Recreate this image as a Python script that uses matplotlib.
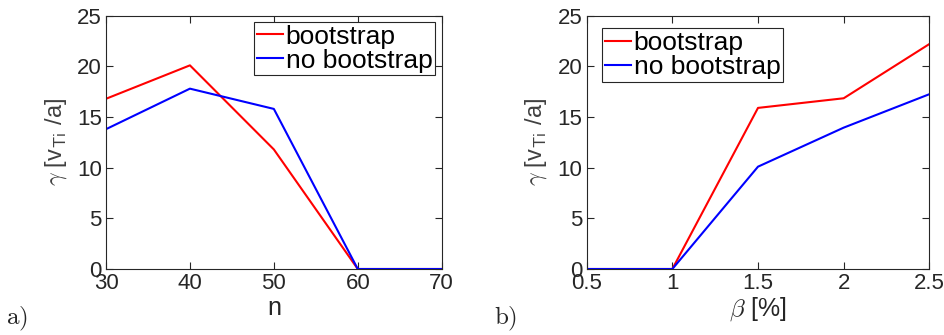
import matplotlib.pyplot as plt
import numpy as np

plt.rcParams['mathtext.fontset'] = 'cm'
plt.rcParams['font.family'] = ['Liberation Sans', 'DejaVu Sans']

n_vals = [30, 40, 50, 60, 70]
n_boot = [16.8, 20.1, 11.8, 0, 0]
n_noboot = [13.8, 17.8, 15.8, 0, 0]

beta_vals = [0.5, 1, 1.5, 2, 2.5]
beta_boot = [0, 0, 15.9, 16.85, 22.2]
beta_noboot = [0, 0, 10.1, 13.95, 17.25]

tick_col = '#262626'

fig = plt.figure(figsize=(9.44, 3.35), dpi=100)
ax1 = fig.add_axes([106 / 944, 1 - 269 / 335, 335.7 / 944, 253.3 / 335])
ax2 = fig.add_axes([586.7 / 944, 1 - 269 / 335, 342.6 / 944, 253.3 / 335])


def style(ax, x, xticks, xticklabels, xlabel):
    ax.set_xlim(x[0], x[-1])
    ax.set_ylim(0, 25)
    ax.set_xticks(xticks)
    ax.set_xticklabels(xticklabels)
    ax.set_yticks([0, 5, 10, 15, 20, 25])
    ax.tick_params(direction='in', top=True, right=True, labelsize=16,
                   colors=tick_col, length=5, width=0.8, pad=3)
    for s in ax.spines.values():
        s.set_color(tick_col)
        s.set_linewidth(0.8)
    ax.set_ylabel(r'$\gamma$ [v$_{\mathsf{Ti}}$ /a]', fontsize=17,
                  color='#404040', labelpad=6)
    ax.set_xlabel(xlabel, fontsize=18, color=tick_col, labelpad=1)


def legend(ax, loc, anchor):
    leg = ax.legend(loc=loc, bbox_to_anchor=anchor, fontsize=19,
                    handlelength=1.0, handletextpad=0.1, borderpad=0.1,
                    labelspacing=0.0, borderaxespad=0, fancybox=False,
                    framealpha=1)
    leg.get_frame().set_edgecolor('#262626')
    leg.get_frame().set_linewidth(0.8)


ax1.plot(n_vals, n_boot, color='#ff0000', lw=1.5, label='bootstrap')
ax1.plot(n_vals, n_noboot, color='#0000ff', lw=1.5, label='no bootstrap')
style(ax1, n_vals, n_vals, [str(v) for v in n_vals], 'n')
legend(ax1, 'upper right', (0.98, 0.975))

ax2.plot(beta_vals, beta_boot, color='#ff0000', lw=1.5, label='bootstrap')
ax2.plot(beta_vals, beta_noboot, color='#0000ff', lw=1.5, label='no bootstrap')
style(ax2, beta_vals, beta_vals, ['0.5', '1', '1.5', '2', '2.5'], r'$\beta$ [%]')
legend(ax2, 'upper left', (0.045, 0.95))

fig.text(6 / 944, 1 - 324 / 335, r'$\mathrm{a)}$', fontsize=18, color='#262626')
fig.text(494 / 944, 1 - 324 / 335, r'$\mathrm{b)}$', fontsize=18, color='#262626')

fig.savefig('out.png', dpi=100)
